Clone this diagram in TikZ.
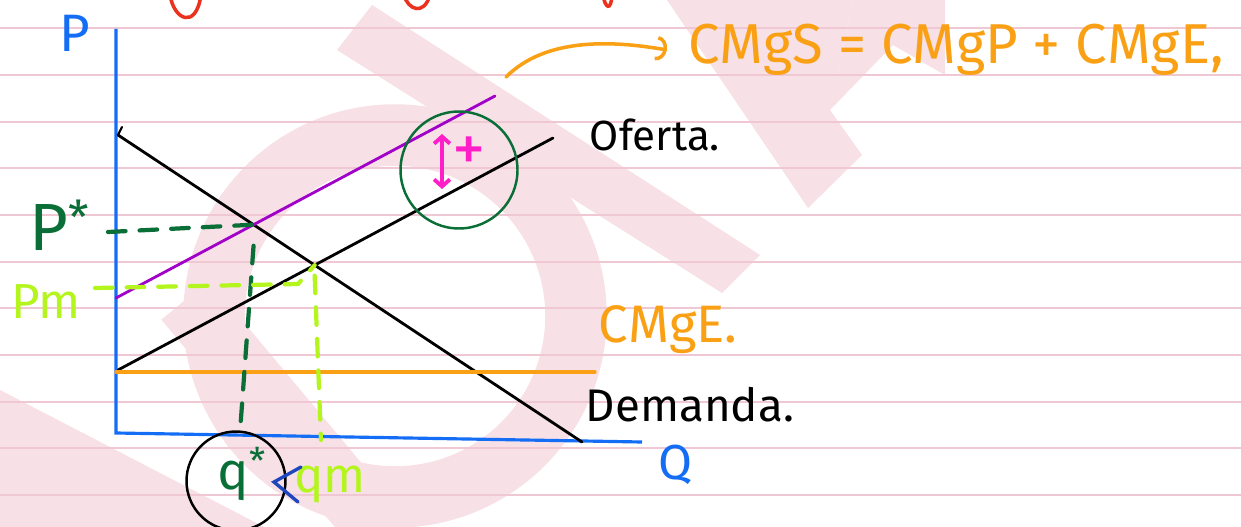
\documentclass[tikz,border=0pt]{standalone}
\usepackage{fontspec}
\setmainfont{Fira Sans}
\usetikzlibrary{arrows.meta,positioning,calc,intersections}

\definecolor{ruleline}{RGB}{240,200,212}
\definecolor{wmark}{RGB}{247,224,230}
\definecolor{axisblue}{RGB}{20,110,245}
\definecolor{costorange}{RGB}{250,160,20}
\definecolor{darkgreen}{RGB}{10,110,55}
\definecolor{limegreen}{RGB}{180,245,30}
\definecolor{cmgspurple}{RGB}{160,0,200}
\definecolor{taxpink}{RGB}{255,30,200}
\definecolor{inkred}{RGB}{235,50,30}
\definecolor{markblue}{RGB}{30,70,190}

\begin{document}
\begin{tikzpicture}[
    x=0.02cm, y=-0.02cm,
    ruled/.style={draw=ruleline, line width=0.9pt},
    wmband/.style={draw=wmark, line width=35pt},
    axis/.style={draw=axisblue, line width=1.8pt},
    curve/.style={line width=1.6pt, line cap=round},
    guide/.style={dash pattern=on 10pt off 8pt, line width=2.4pt, line cap=round},
    ink/.style={inner sep=0pt, anchor=center},
    ring/.style={circle, draw, line width=1.4pt, inner sep=0pt}
]
    % page: watermark and ruled lines
    \useasboundingbox (0,0) rectangle (1241,527);
    \fill[white] (0,0) rectangle (1241,527);
    \begin{scope}
        \clip (0,0) rectangle (1241,527);
        \draw[wmband] (395,316) circle [radius=181];
        \draw[wmband] (185,300) -- (390,545);
        \fill[wmark] (337,50) -- (372,5) -- (760,255) -- (722,293) -- cycle;
        \fill[wmark] (667,0) -- (853,0) -- (830,110) -- (862,155) -- (808,208) -- cycle;
        \fill[wmark] (853,0) -- (945,0) -- (945,75) -- (893,45) -- (830,110) -- cycle;
        \fill[wmark] (0,390) -- (270,530) -- (0,530) -- cycle;
        \foreach \y in {28,75,122,168,215,262,308,355,402,448,495}
            \draw[ruled] (0,\y) -- (1241,\y);
        % cut-off red ink at the top edge
        \draw[inkred, curve, line width=2pt] (170,-5) .. controls (174,20) and (196,30) .. (201,-5);
        \draw[inkred, curve, line width=2pt] (404,-5) .. controls (408,10) and (424,16) .. (430,-5);
        \draw[inkred, curve, line width=2pt] (603,-5) .. controls (605,8) and (611,12) .. (612,-5);
    \end{scope}

    % axes
    \coordinate (origin) at (116,433);
    \coordinate (ptop) at (116,29);
    \coordinate (qend) at (642,442);
    \draw[axis] (ptop) -- (origin) -- (qend);
    \node[ink, text=axisblue, font=\fontsize{30}{30}\selectfont] (plbl) at (75,33) {P};
    \node[ink, text=axisblue, font=\fontsize{28}{28}\selectfont] (qlbl) at (675,465) {Q};

    % curves
    \coordinate (dstart) at (118,135);
    \coordinate (dend) at (582,442);
    \coordinate (sstart) at (118,370);
    \coordinate (send) at (553,138);
    \coordinate (cstart) at (116,298);
    \coordinate (cend) at (495,96);
    \coordinate (estart) at (116,372);
    \coordinate (eend) at (595,372);
    \draw[curve, name path=demand] (dstart) -- (dend);
    \draw[curve, line width=1.2pt] (dstart) -- ++(4,-8);
    \draw[curve, name path=supply] (sstart) -- (send);
    \draw[curve, draw=cmgspurple, name path=social] (cstart) -- (cend);
    \draw[curve, draw=costorange, line width=1.9pt] (estart) -- (eend);

    \path[name intersections={of=demand and social, by=soceq}];
    \path[name intersections={of=demand and supply, by=mkteq}];

    % labels of the curves
    \node[ink, font=\fontsize{24}{24}\selectfont] (oferta) at (655,135) {Oferta.};
    \node[ink, font=\fontsize{26}{26}\selectfont] (demanda) at (690,405) {Demanda.};
    \node[ink, text=costorange, font=\fontsize{30}{30}\selectfont] (cmge) at (668,330) {CMgE.};
    \node[ink, text=costorange, font=\fontsize{32}{32}\selectfont, anchor=west] (cmgs) at (688,50) {CMgS = CMgP + CMgE,};
    \coordinate (arrstart) at (506,77);
    \draw[curve, draw=costorange, line width=2pt, -{Arc Barb[length=6pt, width=14pt]}]
        (arrstart) .. controls (545,38) and (610,40) .. ([xshift=-12pt]cmgs.west);

    % externality
    \node[ring, draw=darkgreen, minimum size=2.34cm] (taxring) at (459,170) {};
    \coordinate (taxtop) at (442,134);
    \coordinate (taxbot) at (442,189);
    \draw[curve, draw=taxpink, line width=2.2pt, {Straight Barb[length=4pt, width=9pt]}-{Straight Barb[length=4pt, width=9pt]}] (taxtop) -- (taxbot);
    \node[ink, text=taxpink, font=\fontsize{38}{38}\selectfont] (taxplus) at (469,154) {+};

    % optimum and market points
    \node[ink, text=darkgreen, font=\fontsize{38}{38}\selectfont] (pstar) at (60,225) {P\textsuperscript{*}};
    \node[ink, text=limegreen, font=\fontsize{28}{28}\selectfont] (pm) at (46,302) {Pm};
    \coordinate (pstarline) at (108,232);
    \coordinate (pmline) at (95,288);
    \coordinate (pmbend) at (298,284);
    \coordinate (qstarbase) at (240,432);
    \coordinate (qmbase) at (321,440);
    \draw[guide, draw=darkgreen] (pstarline) -- (soceq);
    \draw[guide, draw=darkgreen] ([yshift=-12pt]soceq) -- (qstarbase);
    \draw[guide, draw=limegreen] (pmline) -- (pmbend) -- (mkteq);
    \draw[guide, draw=limegreen] ([yshift=-6pt]mkteq) -- (qmbase);

    \node[ring, draw=black, minimum size=1.98cm] (qring) at (236,481) {};
    \node[ink, text=darkgreen, font=\fontsize{30}{30}\selectfont] (qstar) at (242,474) {q\textsuperscript{*}};
    \node[ink, text=limegreen, font=\fontsize{28}{28}\selectfont] (qm) at (330,484) {qm};
    \coordinate (lessa) at (301,467);
    \coordinate (lessb) at (274,482);
    \coordinate (lessc) at (298,502);
    \draw[curve, draw=markblue, line width=1.9pt] (lessa) -- (lessb) -- (lessc);
\end{tikzpicture}
\end{document}
